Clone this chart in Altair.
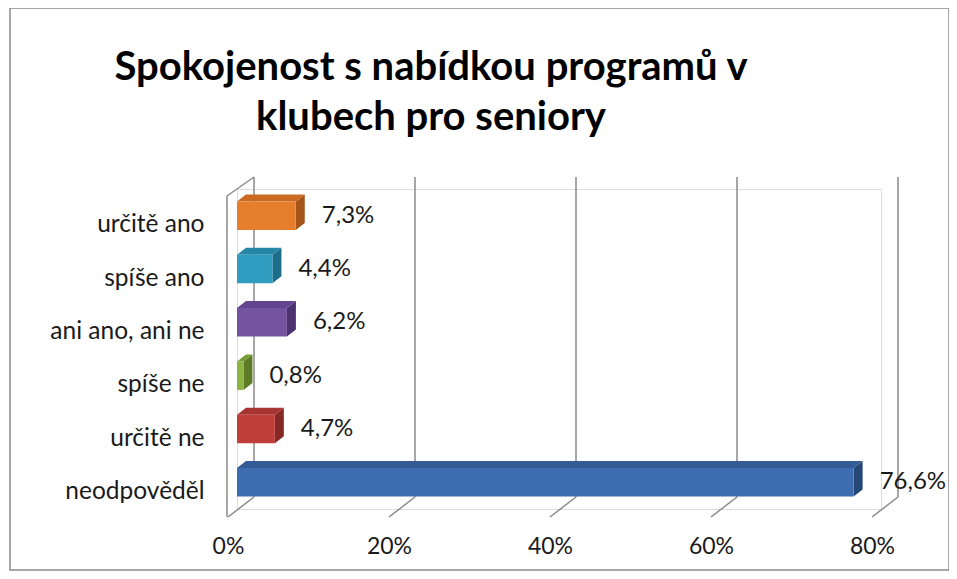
import json
import altair as alt
import pandas as pd

# ---- data ----
categories = ["určitě ano", "spíše ano", "ani ano, ani ne", "spíše ne", "určitě ne", "neodpověděl"]
values = [7.3, 4.4, 6.2, 0.8, 4.7, 76.6]
front_colors = ["#E57F2D", "#2F9CC0", "#7453A0", "#8DB443", "#C13F3B", "#3D6CB0"]
top_colors = ["#CC6A22", "#2786A6", "#624590", "#799D36", "#A83431", "#335B96"]
side_colors = ["#A5541A", "#1D6D88", "#4C336F", "#5D7A27", "#862826", "#264878"]
ticks = [0, 20, 40, 60, 80]
title_lines = ["Spokojenost s nabídkou programů v", "klubech pro seniory"]

FONT = "Lato"
W, H = 644, 320
XMAX = 80
n = len(categories)
px_x = XMAX / W          # data units per pixel (x)
px_y = n / H             # data units per pixel (y)
DX, DY = 9 * px_x, 7 * px_y
HALF = 14.25 * px_y

labels = [f"{v:.1f}".replace(".", ",") + "%" for v in values]

front_rows, top_rows, side_rows = [], [], []
for i, (c, v) in enumerate(zip(categories, values)):
    top, bot = i - HALF, i + HALF
    front_rows.append(dict(bar=c, idx=i, x0=0, x1=v, ytop=top, ybot=bot,
                           fill=front_colors[i], label=labels[i], val=v))
    xs = sorted({0.0, v, DX, v + DX})
    for k, x in enumerate(xs):
        up = top - DY * min(x / DX, 1.0)
        lo = top - DY * max(0.0, (x - v) / DX)
        top_rows.append(dict(bar=c, k=k, x=x, y=up, y2=lo, fill=top_colors[i]))
    ys = sorted({top - DY, top, bot - DY, bot})
    for k, y in enumerate(ys):
        left = v + DX * max(0.0, min(1.0, (top - y) / DY))
        right = v + DX * min(1.0, max(0.0, (bot - y) / DY))
        side_rows.append(dict(bar=c, k=k, y=y, x=left, x2=right, fill=side_colors[i]))

front_df = pd.DataFrame(front_rows)
top_df = pd.DataFrame(top_rows)
side_df = pd.DataFrame(side_rows)
tick_df = pd.DataFrame({"t": ticks})
zero_df = pd.DataFrame({"t": [0]})
one_df = pd.DataFrame({"a": [0]})

label_expr = json.dumps(categories, ensure_ascii=False) + "[datum.value]"

xs_ = alt.Scale(domain=[0, XMAX], nice=False, zero=True)
ys_ = alt.Scale(domain=[-0.5, n - 0.5], reverse=True, nice=False, zero=False)
xa = alt.Axis(values=ticks, labelExpr="datum.value + '%'", grid=False, domain=False,
              ticks=False, labelOffset=-9, labelPadding=26, labelFontSize=23,
              labelFlush=False, labelFont=FONT, labelColor="#1a1a1a", title=None)
ya = alt.Axis(values=list(range(n)), labelExpr=label_expr, grid=False, domain=False,
              ticks=False, labelPadding=33, labelOffset=9, labelFontSize=24.5,
              labelFlush=False, labelFont=FONT, labelColor="#1a1a1a", title=None)

GRID = "#8a8a8a"
BACK, FRONT = 17, -9

back_grid = alt.Chart(tick_df).mark_rule(xOffset=BACK, color=GRID, strokeWidth=1.5).encode(
    x=alt.X("t:Q", scale=xs_, axis=xa), y=alt.value(-12), y2=alt.value(308))
floor = alt.Chart(tick_df).mark_rule(xOffset=BACK, x2Offset=FRONT, color=GRID, strokeWidth=1.5).encode(
    x=alt.X("t:Q", scale=xs_, axis=xa), x2="t:Q", y=alt.value(308), y2=alt.value(328))
wall_front = alt.Chart(zero_df).mark_rule(xOffset=FRONT - 1, color=GRID, strokeWidth=1.5).encode(
    x=alt.X("t:Q", scale=xs_, axis=xa), y=alt.value(7), y2=alt.value(328))
wall_top = alt.Chart(zero_df).mark_rule(xOffset=FRONT - 1, x2Offset=BACK, color=GRID, strokeWidth=1.5).encode(
    x=alt.X("t:Q", scale=xs_, axis=xa), x2="t:Q", y=alt.value(7), y2=alt.value(-12))

side = alt.Chart(side_df).mark_area(orient="horizontal").encode(
    y=alt.Y("y:Q", scale=ys_, axis=ya, stack=None),
    x=alt.X("x:Q", scale=xs_, axis=xa, stack=None), x2="x2:Q",
    color=alt.Color("fill:N", scale=None), detail="bar:N")
topf = alt.Chart(top_df).mark_area(orient="vertical").encode(
    x=alt.X("x:Q", scale=xs_, axis=xa, stack=None),
    y=alt.Y("y:Q", scale=ys_, axis=ya, stack=None), y2="y2:Q",
    color=alt.Color("fill:N", scale=None), detail="bar:N")
front = alt.Chart(front_df).mark_rect().encode(
    x=alt.X("x0:Q", scale=xs_, axis=xa), x2="x1:Q",
    y=alt.Y("ytop:Q", scale=ys_, axis=ya), y2="ybot:Q",
    color=alt.Color("fill:N", scale=None))
vals = alt.Chart(front_df).mark_text(align="left", baseline="middle", dx=26, fontSize=24,
                                     font=FONT, color="#1a1a1a").encode(
    x=alt.X("val:Q", scale=xs_, axis=xa), y=alt.Y("idx:Q", scale=ys_, axis=ya), text="label:N")

title = alt.Chart(one_df).mark_text(align="center", baseline="alphabetic", fontSize=40,
                                    fontWeight="bold", font=FONT, lineHeight=50,
                                    color="#000000").encode(
    x=alt.value(194), y=alt.value(-109), text=alt.value(title_lines))
border = alt.Chart(one_df).mark_rect(filled=False, stroke="#8a8a8a", strokeWidth=1.5).encode(
    x=alt.value(-227), x2=alt.value(712), y=alt.value(-181), y2=alt.value(381))

chart = alt.layer(border, back_grid, floor, wall_front, wall_top, side, topf, front, vals, title).properties(
    width=W, height=H,
    autosize=alt.AutoSizeParams(type="none"),
    padding={"left": 229, "top": 181, "right": 68, "bottom": 62},
).configure_view(stroke=None).configure(font=FONT, background="white")

chart.save("out.html", embed_options={"renderer": "svg", "actions": False})
